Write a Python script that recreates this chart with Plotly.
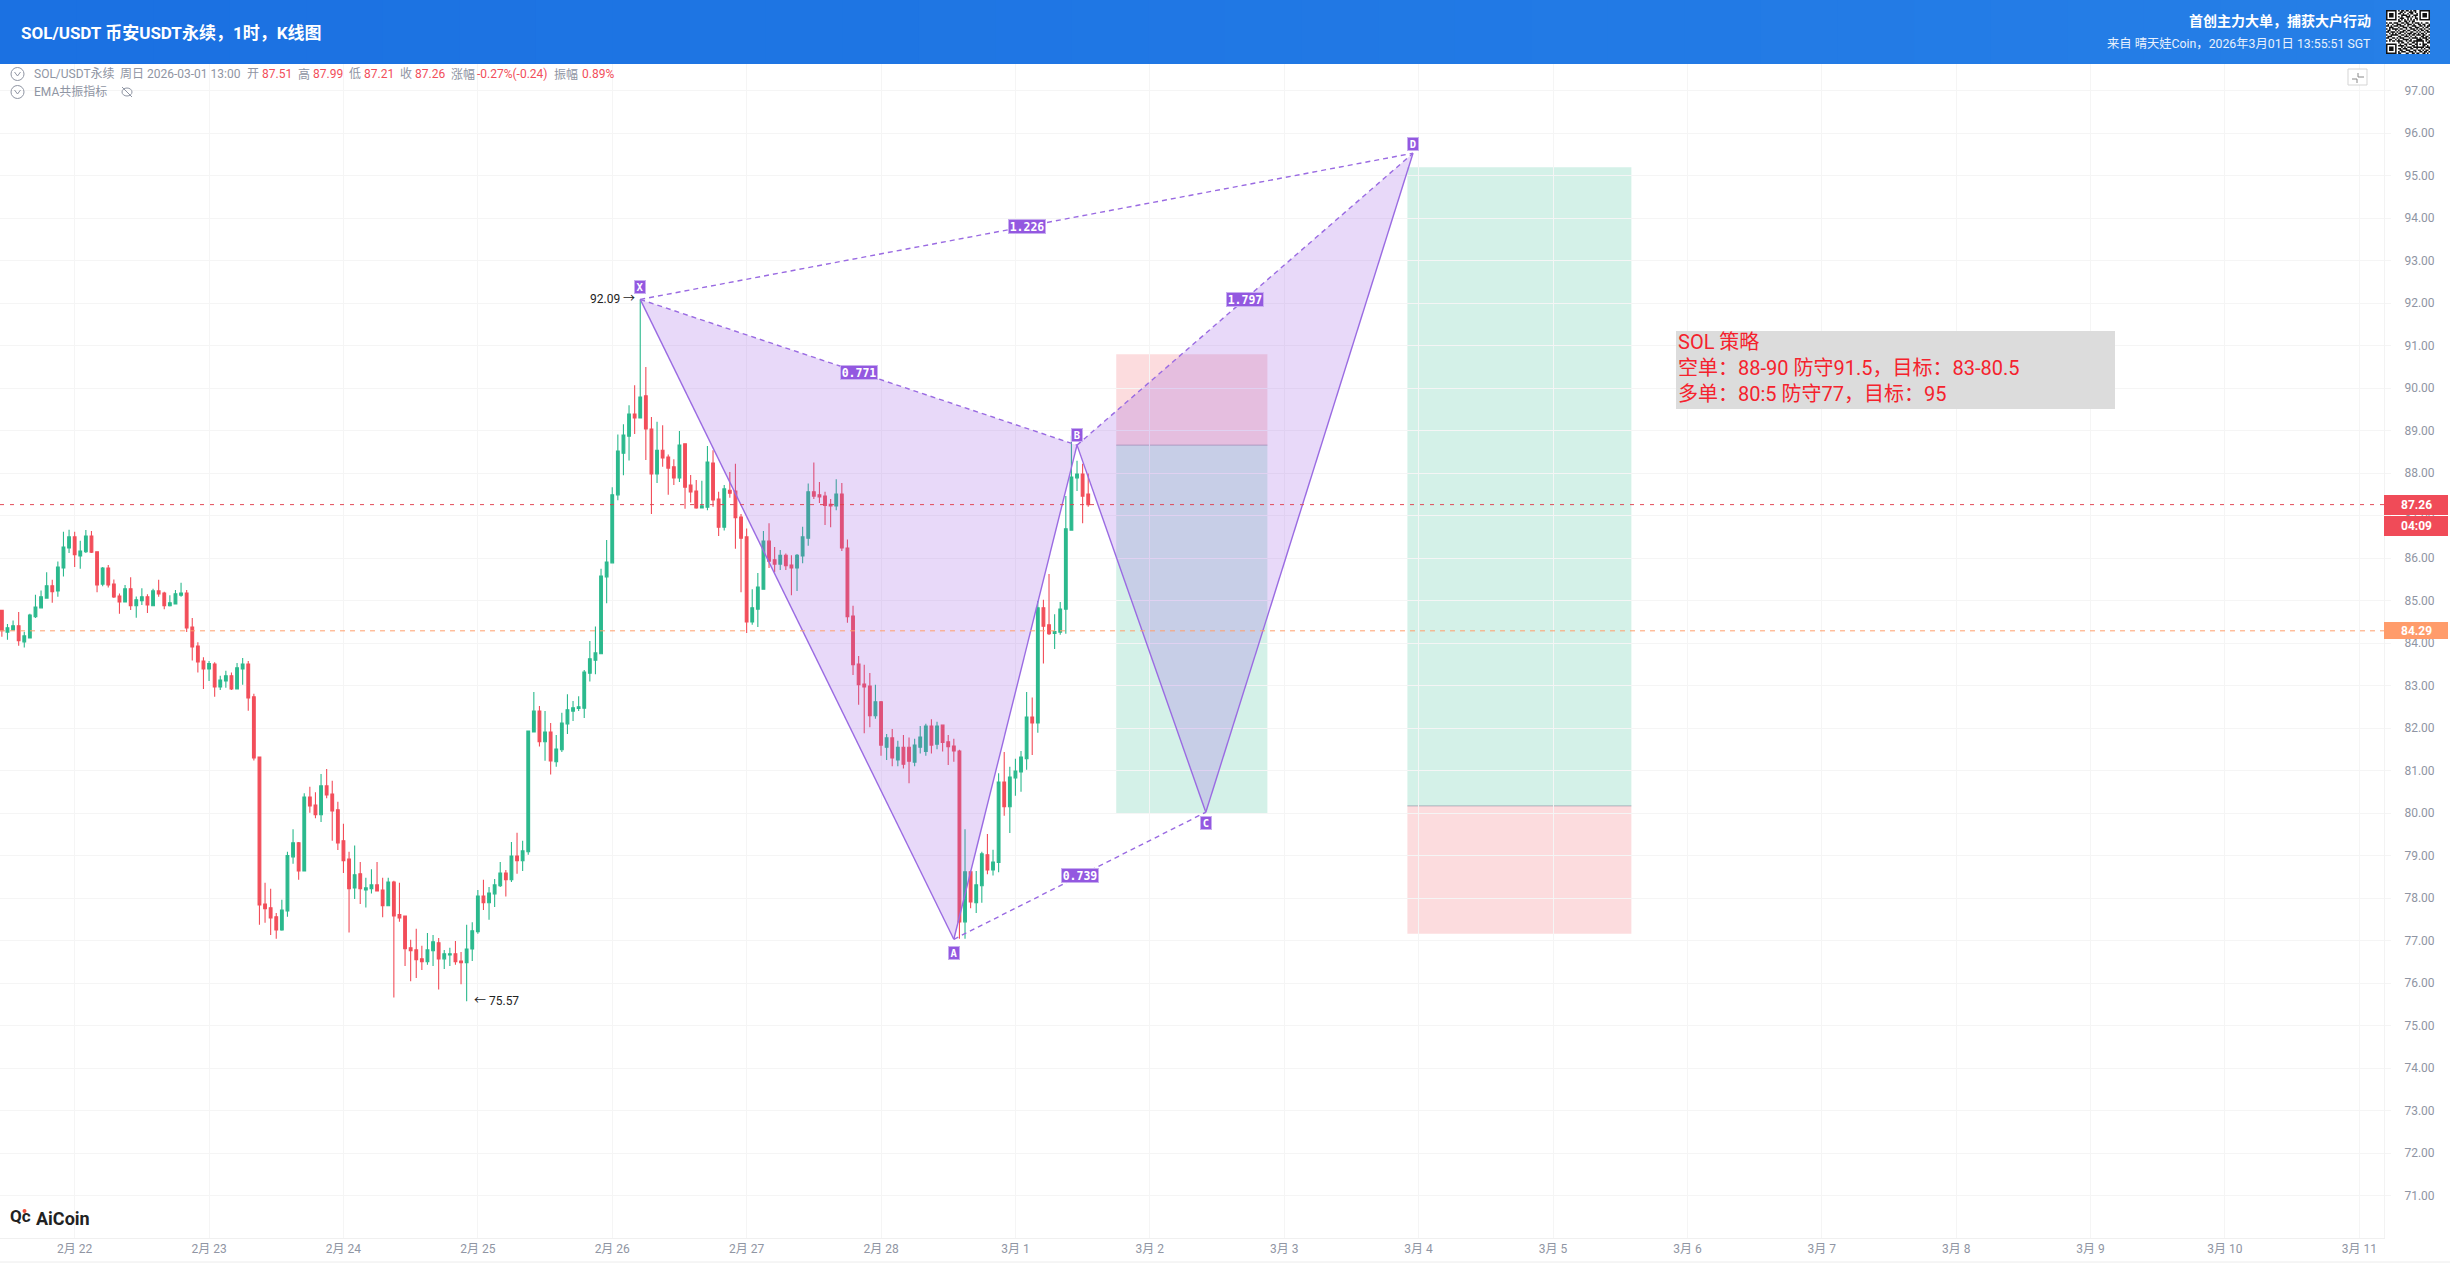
import pandas as pd
import plotly.graph_objects as go

W, H = 2450, 1263
FONT = "Roboto, 'Noto Sans CJK SC', sans-serif"
GREEN, RED = "#2bb98d", "#f24e5a"
PURPLE = "#9a6be2"
GREY = "#8f95a3"

times = pd.date_range("2026-02-21 11:00", periods=195, freq="h").strftime("%Y-%m-%d %H:%M").tolist()

opens = [84.77,84.26,84.31,84.41,84.03,84.12,84.62,84.83,85.06,85.35,
85.23,85.77,86.24,86.50,86.05,86.15,86.52,86.15,85.39,85.77,
85.39,85.11,84.97,85.28,84.88,85.00,85.09,84.88,85.23,85.18,
84.88,84.92,85.13,85.18,84.38,83.93,83.58,83.39,83.51,82.97,
83.11,83.23,82.92,83.39,83.51,82.74,81.32,77.86,77.77,77.56,
77.25,77.70,78.97,79.30,78.64,80.38,80.19,79.96,80.64,80.45,
80.08,79.35,78.92,78.24,78.57,78.19,78.22,78.31,78.19,77.82,
78.38,77.61,77.58,76.83,76.78,76.57,76.50,76.76,76.95,76.57,
76.66,76.69,76.52,76.48,76.80,77.21,78.05,77.89,78.10,78.29,
78.59,78.43,78.99,78.88,79.09,81.91,82.40,81.68,81.91,81.21,
81.49,82.10,82.40,82.46,82.47,83.29,83.60,83.75,85.56,85.89,
87.49,88.47,88.87,89.39,89.30,89.82,89.04,87.98,88.54,88.38,
88.15,87.89,88.69,87.72,87.58,87.18,87.20,88.24,87.39,86.73,
87.60,87.58,86.97,86.50,84.50,84.80,85.27,86.40,85.96,85.86,
86.07,85.84,85.77,86.05,86.47,87.56,87.49,87.46,87.27,87.23,
87.51,86.24,84.64,83.51,83.04,82.99,82.29,82.62,81.55,81.77,
81.25,81.55,81.55,81.20,81.55,81.45,82.05,81.62,82.07,81.68,
81.58,81.46,77.44,78.62,77.89,78.29,79.02,78.66,78.84,80.73,
80.15,80.83,80.97,81.28,82.26,82.12,84.83,84.43,84.23,84.26,
84.80,86.66,87.89,87.98,87.51]

highs = [84.77,84.45,84.53,84.73,84.27,84.69,85.14,85.24,85.67,85.49,
85.92,86.62,86.67,86.62,86.41,86.66,86.64,86.16,85.79,85.84,
85.50,85.17,85.37,85.55,85.10,85.29,85.15,85.28,85.49,85.21,
85.13,85.25,85.42,85.25,84.59,84.02,83.67,83.58,83.55,83.23,
83.35,83.31,83.53,83.65,83.58,82.81,81.32,78.36,78.22,77.65,
77.96,79.09,79.62,79.32,80.47,80.62,80.49,80.92,81.04,80.76,
80.27,79.75,79.09,79.24,78.85,78.48,78.68,78.85,78.48,78.48,
78.41,78.36,77.58,77.02,77.28,76.88,77.18,77.13,77.06,76.78,
76.83,76.99,76.73,77.37,77.43,78.19,78.43,78.26,78.45,78.85,
78.66,79.32,79.54,79.35,81.93,82.85,82.52,82.40,82.12,81.84,
82.36,82.80,82.64,82.75,83.37,84.05,84.39,85.75,86.43,87.67,
88.91,89.15,89.60,90.07,92.09,90.50,89.32,89.21,89.13,88.44,
88.33,88.99,88.69,87.96,87.84,87.82,88.64,88.54,87.56,87.72,
88.03,88.22,87.04,86.70,85.27,85.65,86.64,86.82,86.26,86.19,
86.11,86.07,86.10,86.74,87.76,88.25,87.79,87.56,87.39,87.86,
87.77,86.44,84.88,83.70,83.49,83.30,83.02,82.64,81.86,81.98,
81.70,81.84,81.78,81.75,82.05,82.10,82.21,82.15,82.07,81.84,
81.75,81.49,79.62,78.65,78.64,79.09,79.51,79.14,80.94,81.44,
81.09,81.28,81.46,82.85,82.72,84.99,85.02,85.63,84.68,84.97,
87.46,88.88,88.29,88.22,87.99]

lows = [84.15,84.08,84.31,83.94,83.90,84.12,84.59,84.83,85.06,84.95,
85.09,85.57,86.12,85.79,85.75,86.12,86.12,85.20,85.34,85.31,
85.06,84.69,84.97,84.78,84.60,84.90,84.71,84.88,85.09,84.80,
84.86,84.92,85.09,84.26,83.59,83.31,82.92,83.11,82.74,82.90,
82.95,82.90,82.92,83.02,82.41,81.24,77.37,77.42,77.13,77.04,
77.23,77.56,78.81,78.43,78.64,80.01,79.88,79.79,80.35,79.35,
79.13,78.59,77.19,77.98,77.86,77.78,78.11,78.17,77.55,77.82,
75.66,77.44,76.40,76.04,76.12,76.31,76.43,76.40,75.85,76.33,
76.40,76.43,75.97,75.57,76.52,77.16,77.72,77.49,77.79,78.26,
78.04,78.38,78.57,78.64,79.02,81.91,81.57,81.23,80.91,81.09,
81.44,81.86,82.17,82.40,82.24,83.10,83.27,83.75,84.94,85.89,
87.36,87.95,88.30,88.92,89.30,88.31,87.04,87.77,88.15,87.49,
87.72,87.79,87.16,87.31,87.16,87.18,87.13,87.21,86.52,86.65,
87.42,86.22,85.20,84.24,84.43,84.38,85.27,85.77,85.67,85.72,
85.72,85.13,85.23,85.88,86.29,87.39,87.30,86.78,86.73,87.13,
86.17,84.48,83.25,82.55,81.88,82.02,82.22,81.35,81.25,81.10,
81.10,81.05,80.70,81.10,81.40,81.35,81.40,81.50,81.45,81.13,
81.21,77.04,77.04,77.76,77.65,77.89,78.56,78.53,78.61,79.94,
79.53,80.41,80.50,81.02,81.37,81.89,83.52,84.19,83.86,84.20,
84.22,86.66,87.58,86.82,87.21]

closes = [84.29,84.36,84.41,84.06,84.17,84.66,84.85,85.09,85.35,85.21,
85.79,86.26,86.50,86.08,86.17,86.52,86.14,85.37,85.77,85.37,
85.09,84.97,85.28,84.88,85.02,85.09,84.90,85.23,85.16,84.88,
84.95,85.16,85.18,84.36,83.91,83.56,83.39,83.52,82.97,83.13,
83.23,82.92,83.42,83.51,82.71,81.30,77.84,77.75,77.53,77.25,
77.72,79.00,79.30,78.64,80.38,80.17,79.96,80.64,80.43,80.05,
79.30,78.88,78.22,78.55,78.22,78.24,78.31,78.17,77.82,78.38,
77.58,77.53,76.81,76.76,76.55,76.50,76.78,76.97,76.57,76.69,
76.69,76.50,76.48,76.80,77.23,78.05,77.89,78.12,78.31,78.59,
78.43,78.99,78.88,79.11,81.93,82.40,81.68,81.91,81.23,81.51,
82.12,82.43,82.48,82.50,83.32,83.63,83.77,85.58,85.91,87.49,
88.52,88.90,89.39,89.30,89.79,89.04,87.98,88.54,88.36,88.12,
87.89,88.66,87.67,87.56,87.18,87.23,88.26,87.37,86.73,87.63,
87.53,86.95,86.47,84.50,84.83,85.32,86.40,85.93,85.86,86.07,
85.82,85.77,86.07,86.50,87.56,87.46,87.44,87.24,87.23,87.51,
86.24,84.62,83.49,83.02,82.97,82.29,82.62,81.60,81.77,81.30,
81.55,81.15,81.22,81.60,81.79,82.05,81.60,82.05,81.66,81.56,
81.46,77.44,78.62,77.91,78.31,79.04,78.66,78.85,80.73,80.15,
80.85,80.99,81.32,82.26,82.12,84.83,84.40,84.22,84.27,84.80,
86.69,87.91,87.98,87.46,87.26]

# XABCD pattern
pattern_names = ["X", "A", "B", "C", "D"]
pattern_times = ["2026-02-26 05:00", "2026-02-28 13:00", "2026-03-01 11:00", "2026-03-02 10:00", "2026-03-03 23:00"]
pattern_prices = [92.09, 77.03, 88.66, 80.02, 95.53]
pattern_ratios = {("X", "B"): "0.771", ("A", "C"): "0.739", ("B", "D"): "1.797", ("X", "D"): "1.226"}
pattern_label_shift = [12, -14, 10, -11, 9]

# position tools: time span, stop/entry/target prices
tool1_times = ["2026-03-01 18:00", "2026-03-02 21:00"]
tool1_red = [88.66, 90.80]
tool1_green = [80.00, 88.66]
tool2_times = ["2026-03-03 22:00", "2026-03-05 14:00"]
tool2_red = [77.16, 80.17]
tool2_green = [80.17, 95.20]

last_price = 87.26
orange_price = 84.29
high_label = "92.09 →"
low_label = "← 75.57"
low_time = "2026-02-24 22:00"

y_ticks = list(range(71, 98))
day_ticks = ["2026-02-%02d" % d for d in range(22, 29)] + ["2026-03-%02d" % d for d in range(1, 12)]
day_labels = ["2月 %d" % d for d in range(22, 29)] + ["3月 %d" % d for d in range(1, 12)]

strategy_lines = ["SOL 策略", "空单：88-90 防守91.5，目标：83-80.5", "多单：80:5 防守77，目标：95"]

info_items = ["SOL/USDT永续", "周日", "2026-03-01 13:00", "开", "87.51", "高", "87.99", "低", "87.21",
              "收", "87.26", "涨幅", "-0.27%(-0.24)", "振幅", "0.89%"]
info_x = [33, 119, 146, 246, 261, 297, 312, 348, 363, 399, 414, 450, 476, 553, 581]
info_red = [4, 6, 8, 10, 12, 14]

qr_rows = [
"11111110101101101011001111111",
"10000010011010011101001000001",
"10111010110100101100101011101",
"10111010001111010011101011101",
"10111010101001110101001011101",
"10000010011100101001101000001",
"11111110101010101010101111111",
"00000000110011010110000000000",
"10110111001101100101110100110",
"01001001110010111010011011001",
"11010111011100100111001101011",
"00111000100111011001110010110",
"10101111011001001110101101001",
"01100010100110110011010110110",
"11011101011101001100101001011",
"00101010110010111011010110100",
"10011111001101010110111011001",
"01110000110011101001000110110",
"11001101011100010111101011101",
"00110010100111101000111100110",
"10101101111001011011111110101",
"00000000101100100110100010011",
"11111110010011011001101011100",
"10000010111101000110100011010",
"10111010001010111011111110111",
"10111010110111001100100101001",
"10111010011001110011011010110",
"10000010101110011101001101101",
"11111110110001100110110011010",
]


def px(x):
    return x / W


def py(y):
    return 1 - y / H


shapes, notes = [], []


def rect(x0, y0, x1, y1, fill, line=None, lw=0):
    shapes.append(dict(type="rect", xref="paper", yref="paper", x0=px(x0), x1=px(x1), y0=py(y0), y1=py(y1),
                       fillcolor=fill, line=dict(width=lw, color=line or fill), layer="above"))


def pline(x0, y0, x1, y1, color, lw=1):
    shapes.append(dict(type="line", xref="paper", yref="paper", x0=px(x0), x1=px(x1), y0=py(y0), y1=py(y1),
                       line=dict(width=lw, color=color), layer="above"))


def note(x, y, text, size=12, color=GREY, anchor="left", weight=None, family=FONT):
    label = f"<b>{text}</b>" if weight else text
    notes.append(dict(xref="paper", yref="paper", x=px(x), y=py(y), text=label, showarrow=False,
                      xanchor=anchor, yanchor="middle", borderpad=0,
                      font=dict(size=size, color=color, family=family)))


fig = go.Figure()

fig.add_trace(go.Candlestick(
    x=times, open=opens, high=highs, low=lows, close=closes,
    increasing=dict(line=dict(color=GREEN, width=1.1), fillcolor=GREEN),
    decreasing=dict(line=dict(color=RED, width=1.1), fillcolor=RED),
    whiskerwidth=0, showlegend=False, hoverinfo="skip"))

FILL = "rgba(155,89,230,0.23)"
p = dict(zip(pattern_names, zip(pattern_times, pattern_prices)))


def tri(a, b, c):
    fig.add_trace(go.Scatter(x=[p[a][0], p[b][0], p[c][0], p[a][0]], y=[p[a][1], p[b][1], p[c][1], p[a][1]],
                             mode="lines", fill="toself", fillcolor=FILL, line=dict(width=0),
                             showlegend=False, hoverinfo="skip"))


tri("X", "A", "B")
tri("B", "C", "D")


def seg(a, b, dash):
    fig.add_trace(go.Scatter(x=[p[a][0], p[b][0]], y=[p[a][1], p[b][1]], mode="lines",
                             line=dict(color=PURPLE, width=1.4, dash=dash), showlegend=False, hoverinfo="skip"))


for a, b in [("X", "A"), ("A", "B"), ("B", "C"), ("C", "D")]:
    seg(a, b, "solid")
for a, b in pattern_ratios:
    seg(a, b, "5px,4px")

for span, red, green in [(tool1_times, tool1_red, tool1_green), (tool2_times, tool2_red, tool2_green)]:
    shapes.append(dict(type="rect", xref="x", yref="y", x0=span[0], x1=span[1], y0=red[0], y1=red[1],
                       fillcolor="rgba(240,78,90,0.2)", line=dict(width=0), layer="below"))
    shapes.append(dict(type="rect", xref="x", yref="y", x0=span[0], x1=span[1], y0=green[0], y1=green[1],
                       fillcolor="rgba(38,186,140,0.2)", line=dict(width=0), layer="below"))
mid1, mid2 = tool1_green[1], tool2_red[1]
for span, m in [(tool1_times, mid1), (tool2_times, mid2)]:
    shapes.append(dict(type="line", xref="x", yref="y", x0=span[0], x1=span[1], y0=m, y1=m,
                       line=dict(width=1, color="rgba(130,130,150,0.55)"), layer="below"))

# price lines
shapes.append(dict(type="line", xref="paper", yref="y", x0=0, x1=px(2390), y0=last_price, y1=last_price,
                   line=dict(width=1, color="rgba(226,64,78,0.95)", dash="4px,6px"), layer="above"))
shapes.append(dict(type="line", xref="paper", yref="y", x0=0, x1=px(2388), y0=orange_price, y1=orange_price,
                   line=dict(width=1, color="#ff9f6e", dash="5px,5px"), layer="above"))

# ratio and point labels
for (a, b), txt in pattern_ratios.items():
    mid = pd.Timestamp(p[a][0]) + (pd.Timestamp(p[b][0]) - pd.Timestamp(p[a][0])) / 2
    notes.append(dict(x=mid.isoformat(), y=(p[a][1] + p[b][1]) / 2, xref="x", yref="y", text=f"<b>{txt}</b>",
                      showarrow=False, bgcolor="#9358e0", bordercolor="#c8aef0", borderwidth=1, borderpad=0,
                      width=36, height=13, font=dict(size=11.5, color="white", family="DejaVu Sans Mono")))
for name, t, pr, shift in zip(pattern_names, pattern_times, pattern_prices, pattern_label_shift):
    notes.append(dict(x=t, y=pr, xref="x", yref="y", yshift=shift, text=f"<b>{name}</b>", showarrow=False,
                      bgcolor="#9358e0", bordercolor="#c8aef0", borderwidth=1, borderpad=0, width=10, height=12,
                      font=dict(size=10.5, color="white", family="DejaVu Sans Mono")))
notes.append(dict(x=pattern_times[0], y=92.09, xref="x", yref="y", xanchor="right", xshift=-3, text=high_label,
                  showarrow=False, font=dict(size=12, color="#222", family=FONT)))
notes.append(dict(x=low_time, y=75.57, xref="x", yref="y", xanchor="left", xshift=5, text=low_label,
                  showarrow=False, font=dict(size=12, color="#222", family=FONT)))

# header
N = 32
for i in range(N):
    f = i / (N - 1)
    c = (int(27 + 11 * f), int(113 + 14 * f), int(226 + 5 * f))
    rect(W * i / N, 0, W * (i + 1) / N + 1, 64, "rgb(%d,%d,%d)" % c)
note(20, 33, "SOL/USDT 币安USDT永续，1时，K线图", size=17, color="white", weight=True)
note(2372, 21, "首创主力大单，捕获大户行动", size=14, color="white", anchor="right", weight=True)
note(2372, 44, "来自 晴天娃Coin，2026年3月01日 13:55:51 SGT", size=12.3, color="#e8f1fd", anchor="right")

# QR code
rect(2386, 10, 2430, 54, "white")
cell = 44 / len(qr_rows)
d = ""
for r, row in enumerate(qr_rows):
    for c, v in enumerate(row):
        if v == "1":
            x0, x1 = px(2386 + c * cell), px(2386 + (c + 1) * cell)
            y0, y1 = py(10 + r * cell), py(10 + (r + 1) * cell)
            d += f"M{x0:.5f},{y0:.5f}L{x1:.5f},{y0:.5f}L{x1:.5f},{y1:.5f}L{x0:.5f},{y1:.5f}Z"
shapes.append(dict(type="path", xref="paper", yref="paper", path=d, fillcolor="#111", line=dict(width=0), layer="above"))

# info lines
for i, (t, x) in enumerate(zip(info_items, info_x)):
    note(x, 74, t, size=12, color=RED if i in info_red else GREY)
note(33, 92, "EMA共振指标", size=12, color=GREY)
for cy in (74, 92):
    shapes.append(dict(type="circle", xref="paper", yref="paper", x0=px(11), x1=px(24), y0=py(cy + 6.5), y1=py(cy - 6.5),
                       line=dict(width=1, color=GREY), layer="above"))
    pline(14.5, cy - 2, 17.5, cy + 2, GREY)
    pline(17.5, cy + 2, 20.5, cy - 2, GREY)
shapes.append(dict(type="circle", xref="paper", yref="paper", x0=px(122), x1=px(132), y0=py(96), y1=py(88),
                   line=dict(width=1, color=GREY), layer="above"))
pline(122, 87, 132, 97, GREY)

# collapse icon
rect(2348, 69, 2367, 85, "white", "#d5d5d5", 1)
pline(2358, 73, 2358, 77, "#888")
pline(2358, 77, 2364, 77, "#888")
pline(2352, 79, 2357, 79, "#888")
pline(2357, 79, 2357, 83, "#888")

# price tags
rect(2384, 495, 2448, 515, "#f04b58")
rect(2384, 516, 2448, 536, "#f04b58")
note(2416, 505, "87.26", size=12, color="white", anchor="center", weight=True)
note(2416, 526, "04:09", size=12, color="white", anchor="center", weight=True)
rect(2384, 622, 2448, 639, "#ff9c6b")
note(2416, 631, "84.29", size=12, color="white", anchor="center", weight=True)

# strategy box
rect(1676, 331, 2115, 409, "#dcdcdc")
for line, cy in zip(strategy_lines, (342, 368, 394)):
    note(1677, cy, line, size=20, color="#f5222d")

# logo
note(9, 1216, "Qc", size=17, color="#222", weight=True)
shapes.append(dict(type="circle", xref="paper", yref="paper", x0=px(22.5), x1=px(26.5), y0=py(1213), y1=py(1209),
                   fillcolor="#f0503c", line=dict(width=0), layer="above"))
note(35, 1218, "AiCoin", size=18, color="#222", weight=True)

pline(0, 1262, W, 1262, "#ececec")

GRID = "#f5f5f5"
fig.update_layout(
    width=W, height=H, autosize=False,
    margin=dict(l=0, r=0, t=0, b=0, pad=0),
    paper_bgcolor="white", plot_bgcolor="white",
    showlegend=False, hovermode=False, dragmode=False,
    font=dict(family=FONT, size=12, color=GREY),
    xaxis=dict(domain=[0, 2384 / W], type="date", range=["2026-02-21 10:40", "2026-03-11 04:24"],
               tickmode="array", tickvals=day_ticks, ticktext=day_labels, showgrid=True, gridcolor=GRID, gridwidth=1,
               showline=True, linecolor="#f0f0f0", linewidth=1, ticks="", rangeslider=dict(visible=False),
               tickfont=dict(size=12, color=GREY), zeroline=False, fixedrange=True),
    yaxis=dict(domain=[1 - 1238 / H, 1 - 64 / H], side="right", range=[70.0, 97.63],
               tickmode="array", tickvals=y_ticks, ticktext=["%.2f" % v for v in y_ticks],
               showgrid=True, gridcolor=GRID, gridwidth=1, showline=True, linecolor="#f3f3f3", linewidth=1,
               ticks="outside", ticklen=6, tickcolor=GRID, ticklabelstandoff=11,
               tickfont=dict(size=12, color=GREY), zeroline=False, fixedrange=True),
    shapes=shapes, annotations=notes,
)

fig.write_html("out.html", post_script="document.body.style.margin='0';document.body.style.overflow='hidden';",
               config=dict(displayModeBar=False))
